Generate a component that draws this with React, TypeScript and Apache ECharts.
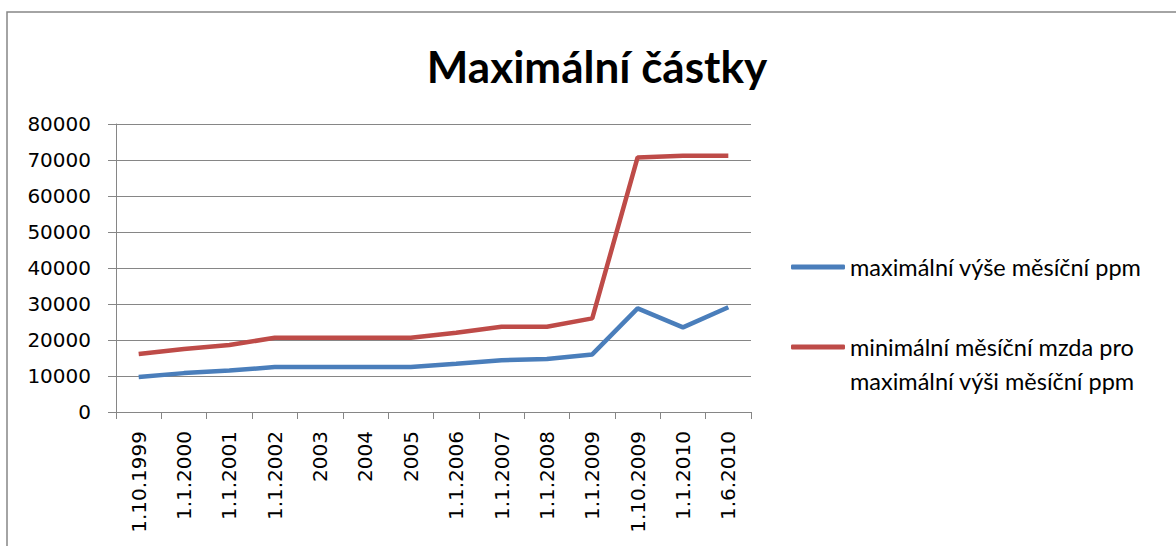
import React, { useEffect, useRef } from "react";
import * as echarts from "echarts";

const categories = ["1.10.1999", "1.1.2000", "1.1.2001", "1.1.2002", "2003", "2004", "2005", "1.1.2006", "1.1.2007", "1.1.2008", "1.1.2009", "1.10.2009", "1.1.2010", "1.6.2010"];
const maxPpm = [9700, 10800, 11500, 12500, 12500, 12500, 12500, 13400, 14400, 14700, 16000, 28800, 23500, 29100];
const minWage = [16100, 17500, 18600, 20600, 20600, 20600, 20600, 22000, 23700, 23700, 26000, 70700, 71200, 71200];
const seriesNames = ["maximální výše měsíční ppm", "minimální měsíční mzda pro maximální výši měsíční ppm"];
const redLegendLines = ["minimální měsíční mzda pro", "maximální výši měsíční ppm"];
const titleText = "Maximální částky";

export default function App() {
  const ref = useRef<HTMLDivElement>(null);
  useEffect(() => {
    const chart = echarts.init(ref.current!, undefined, { renderer: "svg" });
    const grey = "#868686";
    const axisFont = "DejaVu Sans";
    const legendFont = "Lato";
    const legendSize = 23.5;
    chart.setOption({
      animation: false,
      backgroundColor: "#ffffff",
      grid: { left: 116, right: 425, top: 124, bottom: 134, containLabel: false },
      xAxis: {
        type: "category",
        data: categories,
        boundaryGap: true,
        axisLine: { lineStyle: { color: grey, width: 1 } },
        axisTick: { show: true, length: 7, lineStyle: { color: grey } },
        axisLabel: { rotate: 90, margin: 19, fontFamily: axisFont, fontSize: 20, color: "#000" },
        splitLine: { show: false },
      },
      yAxis: {
        type: "value",
        min: 0,
        max: 80000,
        interval: 10000,
        axisLine: { show: true, lineStyle: { color: grey, width: 1 } },
        axisTick: { show: true, length: 8, lineStyle: { color: grey } },
        axisLabel: {
          margin: 25,
          fontFamily: axisFont,
          fontSize: 20,
          color: "#000",
          formatter: (v: number) => String(v),
        },
        splitLine: { show: true, lineStyle: { color: grey, width: 1 } },
      },
      legend: [
        {
          data: [seriesNames[0]],
          orient: "vertical",
          left: 791,
          top: 255,
          padding: 0,
          itemWidth: 54,
          itemHeight: 5,
          itemGap: 5,
          icon: "roundRect",
          textStyle: { fontFamily: legendFont, fontSize: legendSize, color: "#000" },
        },
        {
          data: [seriesNames[1]],
          orient: "vertical",
          left: 791,
          top: 335,
          padding: 0,
          itemWidth: 54,
          itemHeight: 5,
          icon: "roundRect",
          formatter: () => redLegendLines[0],
          textStyle: { fontFamily: legendFont, fontSize: legendSize, color: "#000" },
        },
      ],
      graphic: [
        {
          type: "rect",
          shape: { x: 7, y: 12, width: 1200, height: 600 },
          style: { fill: "none", stroke: grey, lineWidth: 1.5 },
          silent: true,
        },
        {
          type: "text",
          x: 597,
          y: 66,
          style: {
            text: titleText,
            font: `bold 44px Lato`,
            fill: "#000",
            align: "center",
            verticalAlign: "middle",
          },
          silent: true,
        },
        {
          type: "text",
          x: 850,
          y: 381,
          style: {
            text: redLegendLines[1],
            font: `${legendSize}px ${legendFont}`,
            fill: "#000",
            verticalAlign: "middle",
          },
          silent: true,
        },
      ],
      series: [
        {
          name: seriesNames[0],
          type: "line",
          data: maxPpm,
          symbol: "none",
          color: "#4a7ebb",
          lineStyle: { width: 4.5, color: "#4a7ebb" },
        },
        {
          name: seriesNames[1],
          type: "line",
          data: minWage,
          symbol: "none",
          color: "#be4b48",
          lineStyle: { width: 4.5, color: "#be4b48" },
        },
      ],
    });
    return () => chart.dispose();
  }, []);
  return (
    <div
      ref={ref}
      style={{ position: "fixed", left: 0, top: 0, width: 1176, height: 546 }}
    />
  );
}
